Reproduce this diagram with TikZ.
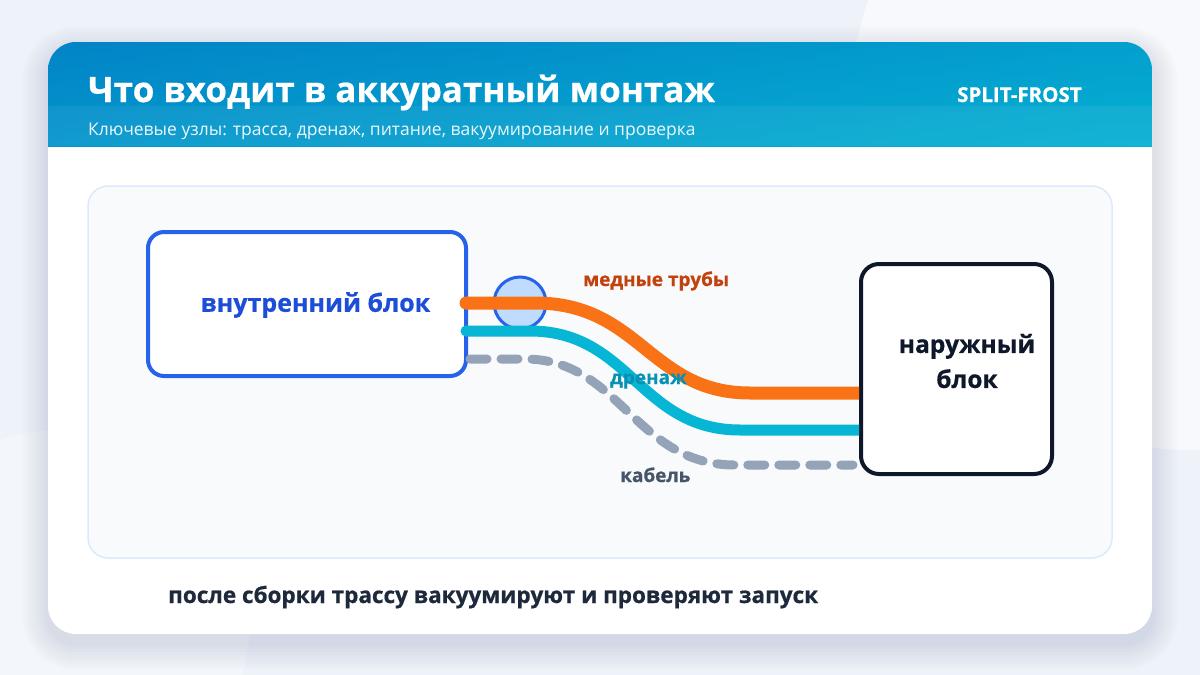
\documentclass[tikz,border=0pt]{standalone}
\usepackage{fontspec}
\setmainfont{Open Sans}[BoldFeatures={FakeBold=0.6}]
\definecolor{bgc}{HTML}{EEF3F9}
\definecolor{hdA}{HTML}{0284C7}
\definecolor{hdB}{HTML}{06B6D4}
\definecolor{panelfill}{HTML}{F8FAFC}
\definecolor{panelline}{HTML}{DBEAFE}
\definecolor{blueline}{HTML}{2563EB}
\definecolor{bluetext}{HTML}{1D4ED8}
\definecolor{darkline}{HTML}{0F172A}
\definecolor{circfill}{HTML}{BFDBFE}
\definecolor{pipeor}{HTML}{F97316}
\definecolor{labor}{HTML}{C2410C}
\definecolor{pipetl}{HTML}{06B6D4}
\definecolor{labtl}{HTML}{0891B2}
\definecolor{pipegr}{HTML}{94A3B8}
\definecolor{labgr}{HTML}{475569}
\definecolor{foot}{HTML}{1E293B}
\tikzset{
  unitbox/.style={draw, fill=white, line width=4pt, rounded corners=16pt, inner sep=0pt},
  pipe/.style={line width=#1, line cap=round},
  lbl/.style={font=\bfseries\fontsize{19}{22}\selectfont, inner sep=0pt},
}
\begin{document}
\begin{tikzpicture}[x=1pt,y=-1pt]
\useasboundingbox (0,0) rectangle (1200,675);
\fill[bgc] (0,0) rectangle (1200,675);
\fill[white,opacity=0.55] (1190,110) circle (340);
\fill[white,opacity=0.35] (60,620) circle (190);
% card shadow
\foreach \s in {2,5,...,26}{
  \fill[blue!30!black,opacity=0.012,rounded corners=28pt+\s] (48-\s,42-\s+10) rectangle (1152+\s,634+\s+10);
}
% card
\fill[white,rounded corners=28pt] (48,42) rectangle (1152,634);
\begin{scope}
  \clip[rounded corners=28pt] (48,42) rectangle (1152,634);
  \shade[left color=hdA, right color=hdB!85!hdA] (48,42) rectangle (1152,146);
  \shade[top color=hdA, bottom color=hdB, opacity=0.35] (48,42) rectangle (1152,146);
  \fill[white,opacity=0.06] (48,106) rectangle (1152,146);
\end{scope}
\node[anchor=base west, text=white, inner sep=0pt, font=\bfseries\fontsize{35}{40}\selectfont] (title) at (88,102) {Что входит в аккуратный монтаж};
\node[anchor=base west, text=white, inner sep=0pt, font=\bfseries\fontsize{20.5}{24}\selectfont] (brand) at (957,102) {SPLIT-FROST};
\node[anchor=base west, text=white!92!hdB, inner sep=0pt, font=\fontsize{17.5}{21}\selectfont] (sub) at (88,135) {Ключевые узлы: трасса, дренаж, питание, вакуумирование и проверка};
% panel
\draw[fill=panelfill, draw=panelline, line width=1.5pt, rounded corners=20pt] (88,186) rectangle (1112,558);
% circle behind pipes
\node[circle, draw=blueline, fill=circfill, line width=3pt, minimum size=52pt, inner sep=0pt] (joint) at (520,303) {};
% units
\node[unitbox, draw=blueline, minimum width=318pt, minimum height=144pt] (indoor) at (307,304) {};
\node[anchor=center, text=bluetext, inner sep=0pt, font=\bfseries\fontsize{25}{29}\selectfont] (indoortxt) at (315.5,305) {внутренний блок};
\node[unitbox, draw=darkline, minimum width=191pt, minimum height=210pt, rounded corners=18pt] (outdoor) at (956.5,369) {};
\node[anchor=center, align=center, text=darkline, inner sep=0pt, font=\bfseries\fontsize{24.5}{35}\selectfont] (outdoortxt) at (967,361) {наружный\\блок};
% pipe end points
\coordinate (o1) at (466,303); \coordinate (o2) at (859,393);
\coordinate (t1) at (466,331); \coordinate (t2) at (859,430);
\coordinate (g1) at (470,359); \coordinate (g2) at (853,465);
\draw[pipe=11pt, pipetl, line cap=butt] (t1) -- (530,331) .. controls (630,331) and (640,430) .. (740,430) -- (t2);
\draw[pipe=13pt, pipeor, line cap=butt] (o1) -- (535,303) .. controls (640,303) and (650,393) .. (750,393) -- (o2);
\fill[pipeor] (o1) circle (6.5);
\fill[pipetl] (t1) circle (5.5);
\draw[pipe=9pt, pipegr, dash pattern=on 17pt off 14pt] (g1) -- (525,359) .. controls (620,359) and (635,465) .. (735,465) -- (g2);
% labels
\node[lbl, anchor=base west, text=labor] (lcu) at (583,286) {медные трубы};
\node[lbl, anchor=base west, text=labtl] (ldr) at (610,384) {дренаж};
\node[lbl, anchor=base west, text=labgr] (lcb) at (620,482) {кабель};
\node[anchor=base west, text=foot, inner sep=0pt, font=\bfseries\fontsize{22.5}{26}\selectfont] (footer) at (168,603) {после сборки трассу вакуумируют и проверяют запуск};
\end{tikzpicture}
\end{document}
